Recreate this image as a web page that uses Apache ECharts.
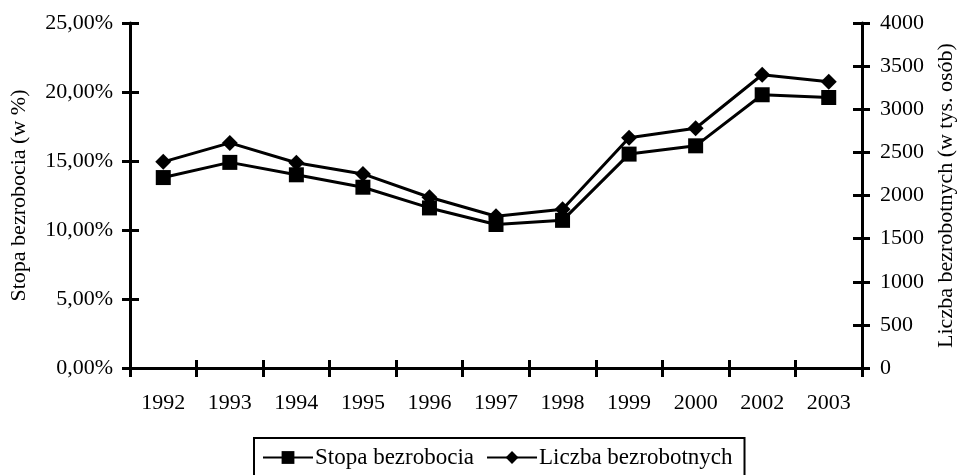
<!DOCTYPE html>
<html style="height: 100%">
<head>
    <meta charset="utf-8">
    <script src="https://cdn.jsdelivr.net/npm/echarts@6/dist/echarts.min.js"></script>
</head>
<body style="height: 100%; margin: 0; background: #fff">
<div id="container" style="width: 958px; height: 475px"></div>
<script type="text/javascript">

// data
var years = ['1992', '1993', '1994', '1995', '1996', '1997', '1998', '1999', '2000', '2002', '2003'];
var stopaBezrobocia = [13.8, 14.9, 14.0, 13.1, 11.6, 10.4, 10.7, 15.5, 16.1, 19.8, 19.6];
var liczbaBezrobotnych = [2390, 2610, 2380, 2250, 1980, 1760, 1840, 2670, 2780, 3400, 3320];

var font = 'Liberation Serif';
var fs = 22;

var dom = document.getElementById('container');
var myChart = echarts.init(dom);

function pct(v) {
    return v.toFixed(2).replace('.', ',') + '%';
}

var option = {
    animation: false,
    backgroundColor: '#fff',
    textStyle: {fontFamily: font, color: '#000'},
    grid: {left: 130, right: 96, top: 23, bottom: 107, outerBoundsMode: 'none', containLabel: false},
    legend: {
        left: 254,
        top: 438,
        padding: [8, 12, 30, 8],
        borderColor: '#000',
        borderWidth: 2,
        itemWidth: 50,
        itemHeight: 16,
        itemGap: 12,
        textStyle: {fontFamily: font, fontSize: 23, color: '#000', padding: [0, 0, 0, -3]},
        data: ['Stopa bezrobocia', 'Liczba bezrobotnych']
    },
    xAxis: [
        {
            type: 'category',
            position: 'bottom',
            data: years,
            boundaryGap: true,
            axisLine: {show: true, lineStyle: {color: '#000', width: 3}},
            axisTick: {show: true, length: 9, lineStyle: {color: '#000', width: 3}},
            axisLabel: {fontFamily: font, fontSize: fs, color: '#000', margin: 24},
            splitLine: {show: false}
        },
        {
            // inner half of the crossing ticks
            type: 'category',
            position: 'bottom',
            data: years,
            boundaryGap: true,
            axisLine: {show: false},
            axisTick: {show: true, inside: true, length: 8, lineStyle: {color: '#000', width: 3}},
            axisLabel: {show: false},
            splitLine: {show: false}
        },
        {
            // top frame line
            type: 'category',
            position: 'top',
            data: years,
            axisLine: {show: true, lineStyle: {color: '#000', width: 3}},
            axisTick: {show: false},
            axisLabel: {show: false},
            splitLine: {show: false}
        }
    ],
    yAxis: [
        {
            type: 'value',
            position: 'left',
            min: 0,
            max: 25,
            interval: 5,
            name: 'Stopa bezrobocia (w %)',
            nameLocation: 'middle',
            nameRotate: 90,
            nameGap: 100,
            nameTextStyle: {fontFamily: font, fontSize: fs, color: '#000'},
            axisLine: {show: true, lineStyle: {color: '#000', width: 3}},
            axisTick: {show: true, length: 8, lineStyle: {color: '#000', width: 3}},
            axisLabel: {fontFamily: font, fontSize: fs, color: '#000', margin: 17, formatter: pct},
            splitLine: {show: false}
        },
        {
            type: 'value',
            position: 'right',
            min: 0,
            max: 4000,
            interval: 500,
            name: 'Liczba bezrobotnych (w tys. osób)',
            nameLocation: 'middle',
            nameRotate: 90,
            nameGap: 70,
            nameTextStyle: {fontFamily: font, fontSize: fs, color: '#000'},
            axisLine: {show: true, lineStyle: {color: '#000', width: 3}},
            axisTick: {show: true, length: 8, lineStyle: {color: '#000', width: 3}},
            axisLabel: {fontFamily: font, fontSize: fs, color: '#000', margin: 18, formatter: function (v) { return String(v); }},
            splitLine: {show: false}
        },
        {
            type: 'value',
            position: 'left',
            min: 0,
            max: 25,
            interval: 5,
            axisLine: {show: false},
            axisTick: {show: true, inside: true, length: 9, lineStyle: {color: '#000', width: 3}},
            axisLabel: {show: false},
            splitLine: {show: false}
        },
        {
            type: 'value',
            position: 'right',
            min: 0,
            max: 4000,
            interval: 500,
            axisLine: {show: false},
            axisTick: {show: true, inside: true, length: 9, lineStyle: {color: '#000', width: 3}},
            axisLabel: {show: false},
            splitLine: {show: false}
        }
    ],
    series: [
        {
            name: 'Stopa bezrobocia',
            type: 'line',
            xAxisIndex: 0,
            yAxisIndex: 0,
            data: stopaBezrobocia,
            symbol: 'rect',
            symbolSize: 15,
            lineStyle: {color: '#000', width: 3},
            itemStyle: {color: '#000'}
        },
        {
            name: 'Liczba bezrobotnych',
            type: 'line',
            xAxisIndex: 0,
            yAxisIndex: 1,
            data: liczbaBezrobotnych,
            symbol: 'diamond',
            symbolSize: 16,
            lineStyle: {color: '#000', width: 3},
            itemStyle: {color: '#000'}
        }
    ]
};

myChart.setOption(option);

</script>
</body>
</html>
